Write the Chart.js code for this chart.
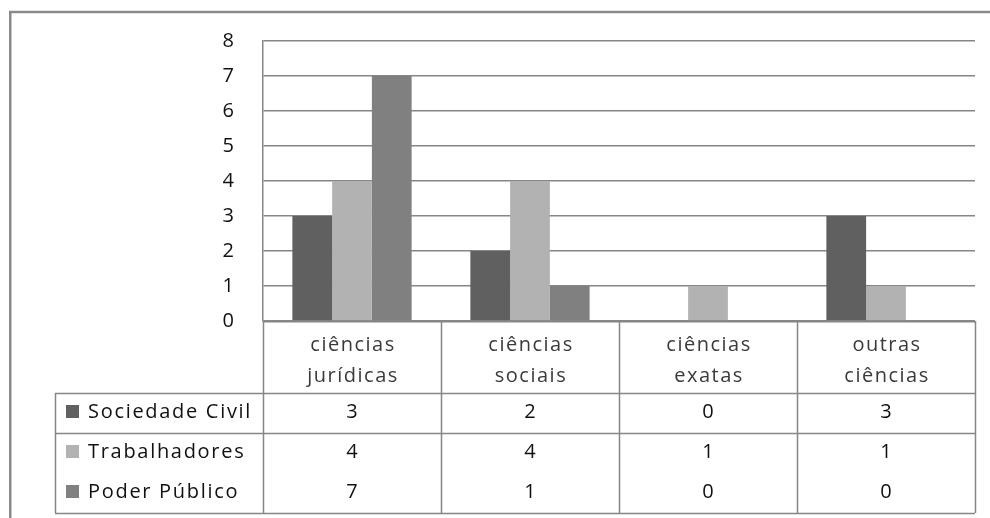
<!DOCTYPE html>
<html>
<head>
<meta charset="utf-8">
<script src="https://cdn.jsdelivr.net/npm/chart.js@4/dist/chart.umd.min.js"></script>
<style>
  html, body { margin: 0; padding: 0; background: #fff; }
  #wrap { width: 990px; height: 518px; position: relative; }
</style>
</head>
<body>
<div id="wrap"><canvas id="chart" width="990" height="518"></canvas></div>
<script>
// categorias (linhas do rótulo) e séries
var categories = [["ciências", "jurídicas"], ["ciências", "sociais"], ["ciências", "exatas"], ["outras", "ciências"]];
var seriesNames = ["Sociedade Civil", "Trabalhadores", "Poder Público"];
var sociedadeCivil = [3, 2, 0, 3];
var trabalhadores = [4, 4, 1, 1];
var poderPublico = [7, 1, 0, 0];
var seriesColors = ["#606060", "#b2b2b2", "#808080"];
var yTicks = [0, 1, 2, 3, 4, 5, 6, 7, 8];

var lineCol = "#868686";
var FONT = "'Open Sans', 'DejaVu Sans', sans-serif";

// desenha a moldura e a tabela de dados abaixo do gráfico
var tablePlugin = {
  id: "dataTable",
  beforeDraw: function (chart) {
    var ctx = chart.ctx;
    ctx.save();
    ctx.fillStyle = "#fff";
    ctx.fillRect(0, 0, chart.width, chart.height);
    ctx.strokeStyle = "#8a8a8a";
    ctx.lineWidth = 2.5;
    ctx.strokeRect(10.25, 12, 1000, 600);
    ctx.restore();
  },
  afterDraw: function (chart) {
    var ctx = chart.ctx;
    var xs = chart.scales.x;
    var area = chart.chartArea;
    var n = categories.length;
    var w = (area.right - area.left) / n;
    var top = area.bottom;
    var headBottom = top + 72;
    var row1 = headBottom + 40;
    var bottom = headBottom + 120;
    var leftCol = 55;
    var allSeries = [sociedadeCivil, trabalhadores, poderPublico];

    ctx.save();
    ctx.strokeStyle = lineCol;
    ctx.lineWidth = 2;
    // linha do zero
    ctx.beginPath();
    ctx.moveTo(area.left, top + 0.5);
    ctx.lineTo(area.right, top + 0.5);
    ctx.stroke();

    ctx.lineWidth = 1.5;
    ctx.beginPath();
    // verticais
    for (var i = 0; i <= n; i++) {
      var x = Math.round(area.left + i * w) + 0.5;
      ctx.moveTo(x, top);
      ctx.lineTo(x, bottom);
    }
    ctx.moveTo(leftCol + 0.5, headBottom);
    ctx.lineTo(leftCol + 0.5, bottom);
    // horizontais
    ctx.moveTo(leftCol, headBottom + 0.5);
    ctx.lineTo(area.right, headBottom + 0.5);
    ctx.moveTo(leftCol, row1 + 0.5);
    ctx.lineTo(area.right, row1 + 0.5);
    ctx.moveTo(leftCol, bottom + 0.5);
    ctx.lineTo(area.right, bottom + 0.5);
    ctx.stroke();

    ctx.font = "20px " + FONT;
    ctx.letterSpacing = "1.5px";
    ctx.textBaseline = "middle";
    ctx.textAlign = "center";
    ctx.fillStyle = "#3a3a3a";
    for (var c = 0; c < n; c++) {
      var cx = xs.getPixelForValue(c) + 1;
      ctx.fillText(categories[c][0], cx, top + 24);
      ctx.fillText(categories[c][1], cx, top + 55);
    }

    var rowY = [headBottom + 19, headBottom + 59, headBottom + 99];
    for (var s = 0; s < seriesNames.length; s++) {
      ctx.fillStyle = seriesColors[s];
      ctx.fillRect(66, rowY[s] - 7, 13, 13);
      ctx.fillStyle = "#111";
      ctx.textAlign = "left";
      ctx.letterSpacing = "1.7px";
      ctx.fillText(seriesNames[s], 88, rowY[s]);
      ctx.textAlign = "center";
      ctx.letterSpacing = "0px";
      for (var k = 0; k < n; k++) {
        ctx.fillText(String(allSeries[s][k]), xs.getPixelForValue(k), rowY[s]);
      }
    }
    ctx.restore();
  }
};

var ctx = document.getElementById("chart").getContext("2d");
var chart = new Chart(ctx, {
  type: "bar",
  data: {
    labels: categories.map(function (c) { return c.join(" "); }),
    datasets: seriesNames.map(function (name, i) {
      return {
        label: name,
        data: [sociedadeCivil, trabalhadores, poderPublico][i],
        backgroundColor: seriesColors[i],
        borderWidth: 0
      };
    })
  },
  options: {
    responsive: false,
    animation: false,
    events: [],
    layout: { padding: { left: 223, top: 38, right: 15, bottom: 197 } },
    datasets: { bar: { categoryPercentage: 0.67, barPercentage: 1 } },
    plugins: { legend: { display: false }, tooltip: { enabled: false } },
    scales: {
      x: { display: false, grid: { display: false } },
      y: {
        min: yTicks[0],
        max: yTicks[yTicks.length - 1],
        afterFit: function (scale) { scale.width = 40; },
        afterBuildTicks: function (scale) {
          scale.ticks = yTicks.map(function (v) { return { value: v }; });
        },
        border: { display: true, color: lineCol, width: 1.5 },
        grid: { color: lineCol, lineWidth: 1.5, drawTicks: false },
        ticks: {
          padding: 29,
          color: "#111",
          font: { family: FONT, size: 20 }
        }
      }
    }
  },
  plugins: [tablePlugin]
});
</script>
</body>
</html>
